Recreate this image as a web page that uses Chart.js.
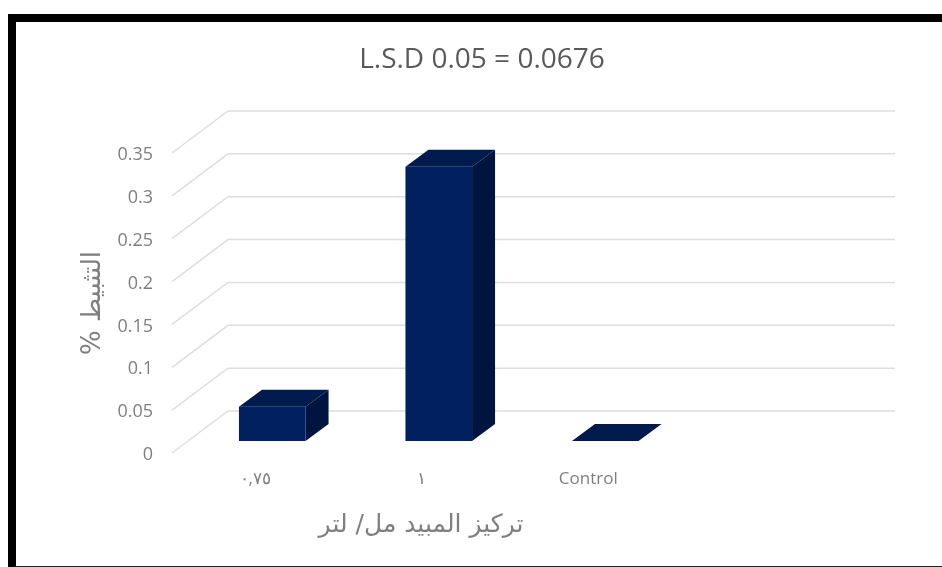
<!DOCTYPE html>
<html>
<head>
<meta charset="utf-8">
<script src="https://cdn.jsdelivr.net/npm/chart.js@4/dist/chart.umd.min.js"></script>
<style>
    html, body { margin: 0; padding: 0; background: #fff; overflow: hidden; }
    #wrap { position: relative; width: 942px; height: 567px; }
    #frame {
        position: absolute; left: 8px; top: 14px; width: 934px; height: 544px;
        border-left: 8px solid #000; border-top: 8px solid #000; border-bottom: 2px solid #222;
    }
    #chart { position: absolute; left: 0; top: 0; }
</style>
</head>
<body>
<div id="wrap">
    <div id="frame"></div>
    <canvas id="chart" width="942" height="567"></canvas>
</div>
<script>
// Du lieu bieu do
const categories = ['٠,٧٥', '١', 'Control', ''];
const inhibition = [0.04, 0.32, 0, null];
const chartTitle = 'L.S.D 0.05 = 0.0676';
const xTitle = 'تركيز المبيد مل/ لتر';
const yTitle = '% التثبيط';

const textColor = '#7f7f7f';
const gridColor = '#dedede';
const barFront = '#002060';
const barTop = '#001a4e';
const barSide = '#001440';

// Wall sits behind the front floor edge, bars stand part of the way back
const wallDx = 56, wallDy = 42;
const planeDx = 17, planeDy = 12;
const barDepthX = 23, barDepthY = 17;

const box3d = {
    id: 'box3d',
    beforeDatasetsDraw(chart) {
        const { ctx, scales: { y }, chartArea } = chart;
        // Gridlines run from the axis, up the side wall, then along the back wall
        ctx.save();
        ctx.strokeStyle = gridColor;
        ctx.lineWidth = 1.5;
        y.ticks.forEach(t => {
            const py = y.getPixelForValue(t.value);
            ctx.beginPath();
            ctx.moveTo(chartArea.left, py);
            ctx.lineTo(chartArea.left + wallDx, py - wallDy);
            ctx.lineTo(chartArea.right + wallDx + 1, py - wallDy);
            ctx.stroke();
        });
        ctx.restore();
        ctx.save();
        ctx.translate(planeDx, -planeDy);
    },
    afterDatasetsDraw(chart) {
        const { ctx } = chart;
        chart.getDatasetMeta(0).data.forEach((bar, i) => {
            if (inhibition[i] === null) return;
            const { x, y, base, width } = bar.getProps(['x', 'y', 'base', 'width']);
            const l = x - width / 2, r = x + width / 2;
            // Top face
            ctx.fillStyle = barTop;
            ctx.beginPath();
            ctx.moveTo(l, y);
            ctx.lineTo(l + barDepthX, y - barDepthY);
            ctx.lineTo(r + barDepthX, y - barDepthY);
            ctx.lineTo(r, y);
            ctx.closePath();
            ctx.fill();
            // Side face
            ctx.fillStyle = barSide;
            ctx.beginPath();
            ctx.moveTo(r, y);
            ctx.lineTo(r + barDepthX, y - barDepthY);
            ctx.lineTo(r + barDepthX, base - barDepthY);
            ctx.lineTo(r, base);
            ctx.closePath();
            ctx.fill();
        });
        ctx.restore();
    },
    afterDraw(chart) {
        const { ctx } = chart;
        ctx.save();
        ctx.fillStyle = '#595959';
        ctx.textAlign = 'center';
        ctx.textBaseline = 'middle';
        ctx.font = '28px "Open Sans"';
        ctx.fillText(chartTitle, 482, 60);
        ctx.fillStyle = textColor;
        ctx.font = '25px "DejaVu Sans"';
        ctx.fillText(xTitle, 421, 525);
        ctx.restore();
    }
};

new Chart(document.getElementById('chart').getContext('2d'), {
    type: 'bar',
    data: {
        labels: categories,
        datasets: [{
            data: inhibition,
            backgroundColor: barFront,
            borderWidth: 0,
            barPercentage: 0.4,
            categoryPercentage: 1,
            clip: false
        }]
    },
    options: {
        responsive: false,
        animation: false,
        layout: { padding: { top: 153, right: 104, left: 0, bottom: 0 } },
        plugins: { legend: { display: false }, tooltip: { enabled: false } },
        scales: {
            x: {
                grid: { display: false },
                border: { display: false },
                ticks: { color: textColor, font: { family: '"Open Sans"', size: 17 }, padding: 8, maxRotation: 0 },
                afterFit: s => { s.height = 114; }
            },
            y: {
                min: 0,
                max: 0.35,
                grid: { display: false },
                border: { display: false },
                ticks: {
                    stepSize: 0.05,
                    color: textColor,
                    font: { family: '"Open Sans"', size: 18 },
                    padding: 11,
                    labelOffset: 2,
                    callback: v => String(+v.toFixed(2))
                },
                title: {
                    display: true,
                    text: yTitle,
                    color: textColor,
                    font: { family: '"DejaVu Sans"', size: 26 },
                    padding: { top: 78 }
                },
                afterFit: s => { s.width = 172; }
            }
        }
    },
    plugins: [box3d]
});
</script>
</body>
</html>
